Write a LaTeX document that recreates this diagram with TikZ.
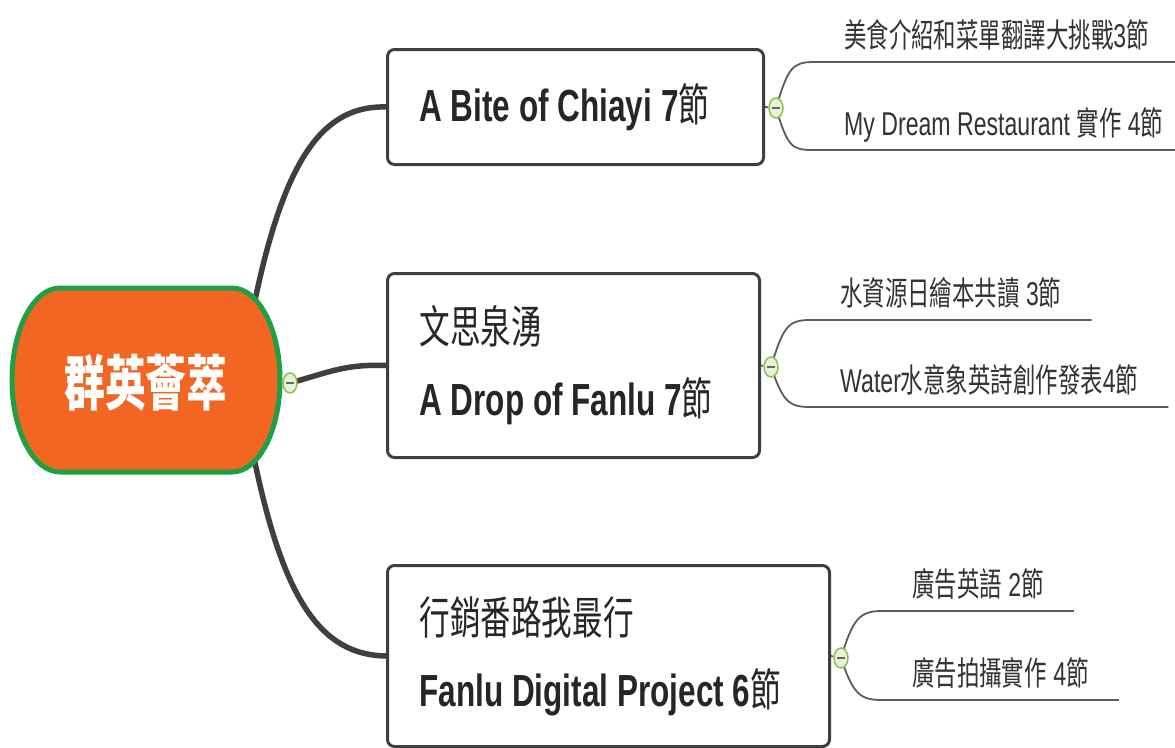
\documentclass[tikz,border=0pt]{standalone}
\usepackage{fontspec}
\setmainfont{Liberation Sans}[FakeStretch=0.7]
\newfontfamily\cjk{Noto Sans CJK TC}[FakeStretch=0.68]
\usetikzlibrary{shapes.geometric, backgrounds}
\definecolor{rootfill}{HTML}{F26522}
\definecolor{rootedge}{HTML}{1FA045}
\definecolor{branchgray}{HTML}{3F3F3F}
\definecolor{foldgreen}{HTML}{8CC152}
\definecolor{foldfill}{HTML}{E6F2DA}

\begin{document}
\begin{tikzpicture}[x=1pt, y=-1pt,
        branch/.style={draw=branchgray, line width=5.5pt},
        twig/.style={draw=branchgray!85, line width=1.8pt},
        topic/.style={draw=branchgray, line width=3pt, rounded corners=7pt, fill=white, anchor=north west, inner xsep=32pt, align=flush left, text=black!85, font=\fontsize{45}{72}\selectfont},
        leaf/.style={anchor=south west, inner xsep=30pt, inner ysep=7pt, text height=24pt, text depth=7pt, text=black!80, font=\fontsize{33}{33}\selectfont},
        fold/.style={ellipse, draw=foldgreen, fill=foldfill, line width=1.5pt, minimum width=14pt, minimum height=20pt, inner sep=0pt,
            path picture={\draw[line width=1.5pt, black!60] ([xshift=-4pt]path picture bounding box.center) -- ([xshift=4pt]path picture bounding box.center);}}]
        \path[use as bounding box] (0,0) rectangle (1175,747);

        \path[fill=rootfill, draw=rootedge, line width=5pt] (60,288) -- (232,288)
            .. controls (258.5,288) and (280,329.2) .. (280,380)
            .. controls (280,430.8) and (258.5,472) .. (232,472) -- (60,472)
            .. controls (33.5,472) and (12,430.8) .. (12,380)
            .. controls (12,329.2) and (33.5,288) .. cycle;
        \node[text=white, font=\fontsize{60}{60}\selectfont\bfseries\cjk] (root) at (146,383) {群英薈萃};
        \coordinate (rootne) at (254,305);
        \coordinate (rootse) at (254,458);

        \node[topic, text width=312pt, minimum height=115pt] (bite) at (386,48) {{\bfseries A Bite of Chiayi 7{\mdseries\cjk 節}}};
        \node[topic, text width=308pt, minimum height=184pt] (drop) at (386,272) {{\cjk 文思泉湧}\\{\bfseries A Drop of Fanlu 7{\mdseries\cjk 節}}};
        \node[topic, text width=378pt, minimum height=181pt] (digital) at (386,564) {{\cjk 行銷番路我最行}\\{\bfseries Fanlu Digital Project 6{\mdseries\cjk 節}}};

        \node[leaf] (food) at (814,62) {{\cjk 美食介紹和菜單翻譯大挑戰}3{\cjk 節}};
        \node[leaf] (dream) at (814,150) {My Dream Restaurant {\cjk 實作} 4{\cjk 節}};
        \node[leaf] (book) at (810,320) {{\cjk 水資源日繪本共讀} 3{\cjk 節}};
        \node[leaf] (poem) at (810,407) {Water{\cjk 水意象英詩創作發表}4{\cjk 節}};
        \node[leaf] (adeng) at (882,611) {{\cjk 廣告英語} 2{\cjk 節}};
        \node[leaf] (adshot) at (882,700) {{\cjk 廣告拍攝實作} 4{\cjk 節}};

        \node[fold] (f0) at (290,383) {};
        \node[fold] (f1) at (776,108) {};
        \node[fold] (f2) at (771,367) {};
        \node[fold] (f3) at (841,658) {};

        \begin{scope}[on background layer]
        \fill[white] (0,0) rectangle (1175,747);
        \draw[branch] (rootne) .. controls (283,165) and (320,105) .. (bite.west);
        \draw[branch] (f0.center) .. controls (330,372) and (345,364) .. (drop.west);
        \draw[branch] (rootse) .. controls (283,598) and (320,655) .. (digital.west);
        \draw[twig] (bite.east) -- (f1);
        \draw[twig] (drop.east) -- (f2);
        \draw[twig] (digital.east) -- (f3);
        \draw[twig] (f1.center) .. controls +(12,-40) and +(-22,0) .. (food.south west) -- (food.south east);
        \draw[twig] (f1.center) .. controls +(12,40) and +(-22,0) .. (dream.south west) -- (dream.south east);
        \draw[twig] (f2.center) .. controls +(12,-40) and +(-22,0) .. (book.south west) -- (book.south east);
        \draw[twig] (f2.center) .. controls +(12,34) and +(-22,0) .. (poem.south west) -- (poem.south east);
        \draw[twig] (f3.center) .. controls +(12,-40) and +(-22,0) .. (adeng.south west) -- (adeng.south east);
        \draw[twig] (f3.center) .. controls +(12,36) and +(-22,0) .. (adshot.south west) -- (adshot.south east);
        \end{scope}
    \end{tikzpicture}
\end{document}
